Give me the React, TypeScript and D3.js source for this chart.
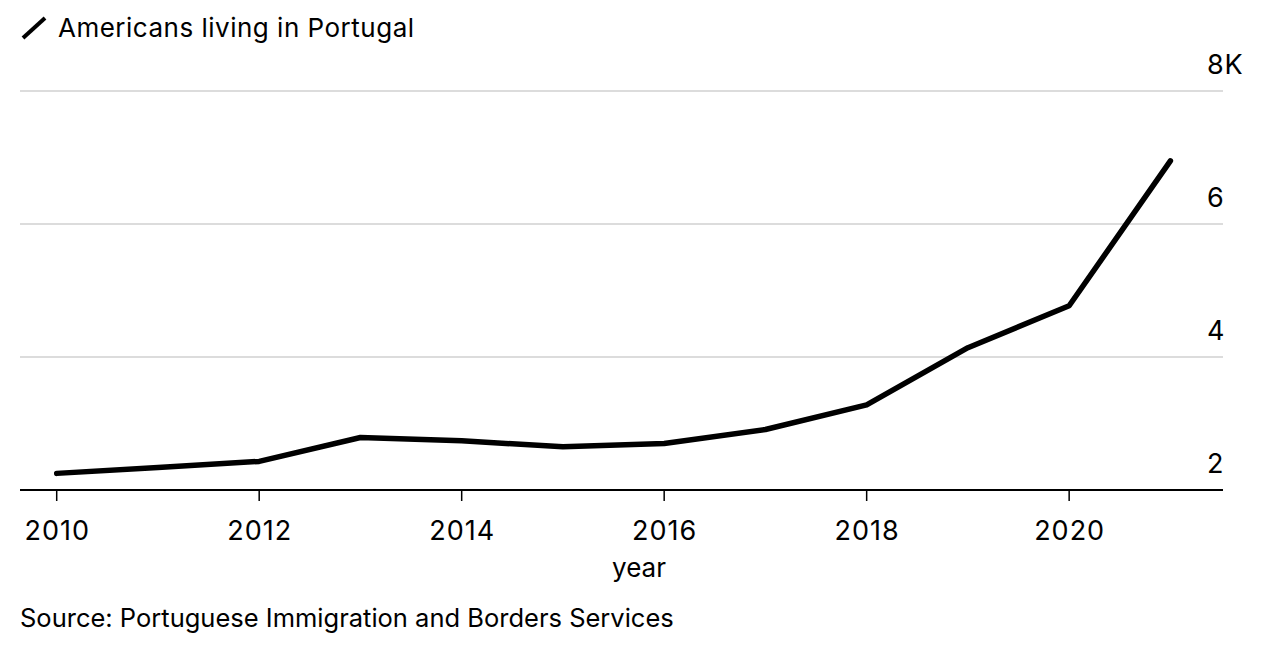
import React from "react";
import * as d3 from "d3";

const years = [2010, 2011, 2012, 2013, 2014, 2015, 2016, 2017, 2018, 2019, 2020, 2021];
const values = [2.25, 2.34, 2.43, 2.79, 2.74, 2.65, 2.70, 2.91, 3.28, 4.14, 4.77, 6.95];
const yTicks = [2, 4, 6, 8];
const yTickLabels = ["2", "4", "6", "8K"];
const xTicks = [2010, 2012, 2014, 2016, 2018, 2020];

const W = 1276;
const H = 654;
const FONT = "Inter, 'Liberation Sans', Arial, sans-serif";

export default function App() {
  const x = d3.scaleLinear().domain([2010, 2021]).range([56.7, 1170.4]);
  const y = d3.scaleLinear().domain([2, 8]).range([490, 91]);
  const line = d3
    .line<number>()
    .x((_, i) => x(years[i]))
    .y((d) => y(d));
  const left = 20;
  const right = 1223;
  return (
    <svg
      width={W}
      height={H}
      style={{ position: "absolute", left: 0, top: 0, background: "#fff" }}
      fontFamily={FONT}
    >
      {/* legend */}
      <line x1={23} y1={38} x2={45} y2={18} stroke="#000" strokeWidth={4} />
      <text x={58} y={37} fontSize={26} letterSpacing={0.5} fill="#000">
        Americans living in Portugal
      </text>
      {/* gridlines */}
      {yTicks.slice(1).map((t) => (
        <line key={t} x1={left} x2={right} y1={y(t)} y2={y(t)} stroke="#dcdcdc" strokeWidth={2} />
      ))}
      {yTicks.map((t, i) => (
        <text key={"l" + t} x={1207} y={y(t) - 17} fontSize={27} letterSpacing={0.8} fill="#000">
          {yTickLabels[i]}
        </text>
      ))}
      {/* line */}
      <path d={line(values) || ""} fill="none" stroke="#000" strokeWidth={5.5} strokeLinejoin="round" strokeLinecap="round" />
      {/* x axis */}
      <line x1={left} x2={right} y1={y(2)} y2={y(2)} stroke="#000" strokeWidth={2} />
      {xTicks.map((t) => (
        <g key={t}>
          <line x1={x(t)} x2={x(t)} y1={y(2)} y2={y(2) + 11} stroke="#000" strokeWidth={1.5} />
          <text x={x(t) + 0.5} y={540} fontSize={27} letterSpacing={1} textAnchor="middle" fill="#000">
            {t}
          </text>
        </g>
      ))}
      <text x={639} y={577} fontSize={26} textAnchor="middle" fill="#000">
        year
      </text>
      <text x={20} y={627} fontSize={25.5} fill="#000">
        Source: Portuguese Immigration and Borders Services
      </text>
    </svg>
  );
}
